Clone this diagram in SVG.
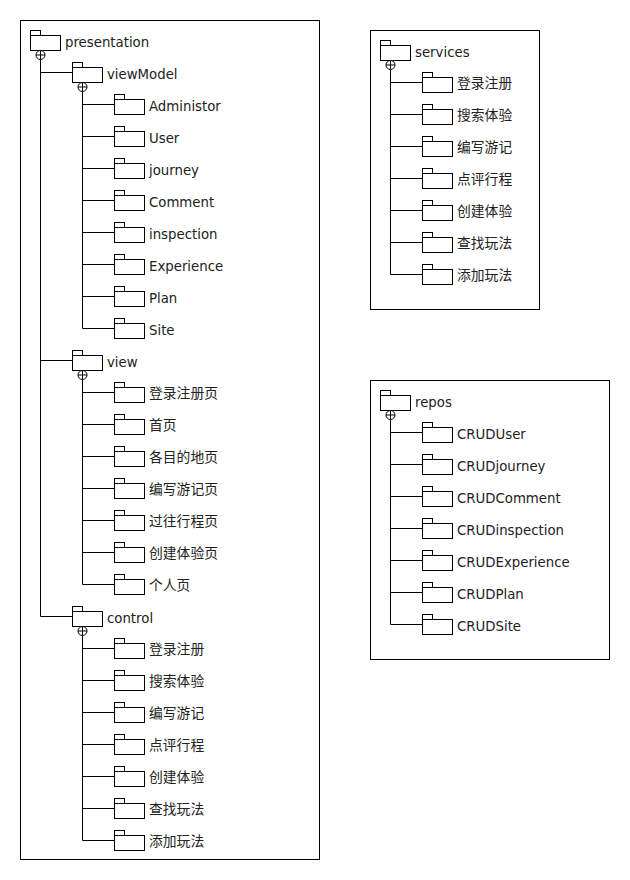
<svg xmlns="http://www.w3.org/2000/svg" width="630" height="880" viewBox="0 0 630 880">
<style>
.box{fill:#fff;stroke:#000;stroke-width:1}
.fd rect{fill:#fff;stroke:#000;stroke-width:1}
.cn{fill:none;stroke:#000;stroke-width:1}
.pl circle{fill:#fff;stroke:#000;stroke-width:1}
.pl path{fill:none;stroke:#000;stroke-width:1}
text{font-family:"DejaVu Sans","Noto Sans CJK SC",sans-serif;font-size:13.3px;fill:#222}
text.zh{font-family:"Noto Sans CJK SC","DejaVu Sans",sans-serif;font-size:13.8px}
</style>
<defs>
<g id="f" class="fd"><rect x="0.5" y="-9.5" width="10" height="5"/><rect x="0.5" y="-4.5" width="30" height="15"/></g>
<g id="p" class="pl"><circle cx="10.5" cy="15" r="4.5"/><path d="M6 15H15M10.5 10.5V19.5"/></g>
</defs>
<rect class="box" x="20.5" y="20.5" width="299" height="839"/>
<rect class="box" x="370.5" y="30.5" width="169" height="279"/>
<rect class="box" x="370.5" y="380.5" width="239" height="279"/>
<g id="connectors" class="cn">
<path d="M40.5 59.5V616.5M40.5 72.5H72.5M40.5 360.5H72.5M40.5 616.5H72.5"/>
<path d="M82.5 91.5V328.5M82.5 104.5H114.5M82.5 136.5H114.5M82.5 168.5H114.5M82.5 200.5H114.5M82.5 232.5H114.5M82.5 264.5H114.5M82.5 296.5H114.5M82.5 328.5H114.5"/>
<path d="M82.5 379.5V584.5M82.5 392.5H114.5M82.5 424.5H114.5M82.5 456.5H114.5M82.5 488.5H114.5M82.5 520.5H114.5M82.5 552.5H114.5M82.5 584.5H114.5"/>
<path d="M82.5 635.5V840.5M82.5 648.5H114.5M82.5 680.5H114.5M82.5 712.5H114.5M82.5 744.5H114.5M82.5 776.5H114.5M82.5 808.5H114.5M82.5 840.5H114.5"/>
<path d="M390.5 69.5V274.5M390.5 82.5H422.5M390.5 114.5H422.5M390.5 146.5H422.5M390.5 178.5H422.5M390.5 210.5H422.5M390.5 242.5H422.5M390.5 274.5H422.5"/>
<path d="M390.5 419.5V624.5M390.5 432.5H422.5M390.5 464.5H422.5M390.5 496.5H422.5M390.5 528.5H422.5M390.5 560.5H422.5M390.5 592.5H422.5M390.5 624.5H422.5"/>
</g>
<g id="presentation"><use href="#f" x="30" y="40"/><use href="#p" x="30" y="40"/><text x="65" y="46.5">presentation</text></g>
<g id="viewModel"><use href="#f" x="72" y="72"/><use href="#p" x="72" y="72"/><text x="107" y="78.5">viewModel</text></g>
<g id="vm-Administor"><use href="#f" x="114" y="104"/><text x="149" y="110.5">Administor</text></g>
<g id="vm-User"><use href="#f" x="114" y="136"/><text x="149" y="142.5">User</text></g>
<g id="vm-journey"><use href="#f" x="114" y="168"/><text x="149" y="174.5">journey</text></g>
<g id="vm-Comment"><use href="#f" x="114" y="200"/><text x="149" y="206.5">Comment</text></g>
<g id="vm-inspection"><use href="#f" x="114" y="232"/><text x="149" y="238.5">inspection</text></g>
<g id="vm-Experience"><use href="#f" x="114" y="264"/><text x="149" y="270.5">Experience</text></g>
<g id="vm-Plan"><use href="#f" x="114" y="296"/><text x="149" y="302.5">Plan</text></g>
<g id="vm-Site"><use href="#f" x="114" y="328"/><text x="149" y="334.5">Site</text></g>
<g id="view"><use href="#f" x="72" y="360"/><use href="#p" x="72" y="360"/><text x="107" y="366.5">view</text></g>
<g id="v-1"><use href="#f" x="114" y="392"/><text class="zh" x="149" y="398">登录注册页</text></g>
<g id="v-2"><use href="#f" x="114" y="424"/><text class="zh" x="149" y="430">首页</text></g>
<g id="v-3"><use href="#f" x="114" y="456"/><text class="zh" x="149" y="462">各目的地页</text></g>
<g id="v-4"><use href="#f" x="114" y="488"/><text class="zh" x="149" y="494">编写游记页</text></g>
<g id="v-5"><use href="#f" x="114" y="520"/><text class="zh" x="149" y="526">过往行程页</text></g>
<g id="v-6"><use href="#f" x="114" y="552"/><text class="zh" x="149" y="558">创建体验页</text></g>
<g id="v-7"><use href="#f" x="114" y="584"/><text class="zh" x="149" y="590">个人页</text></g>
<g id="control"><use href="#f" x="72" y="616"/><use href="#p" x="72" y="616"/><text x="107" y="622.5">control</text></g>
<g id="c-1"><use href="#f" x="114" y="648"/><text class="zh" x="149" y="654">登录注册</text></g>
<g id="c-2"><use href="#f" x="114" y="680"/><text class="zh" x="149" y="686">搜索体验</text></g>
<g id="c-3"><use href="#f" x="114" y="712"/><text class="zh" x="149" y="718">编写游记</text></g>
<g id="c-4"><use href="#f" x="114" y="744"/><text class="zh" x="149" y="750">点评行程</text></g>
<g id="c-5"><use href="#f" x="114" y="776"/><text class="zh" x="149" y="782">创建体验</text></g>
<g id="c-6"><use href="#f" x="114" y="808"/><text class="zh" x="149" y="814">查找玩法</text></g>
<g id="c-7"><use href="#f" x="114" y="840"/><text class="zh" x="149" y="846">添加玩法</text></g>
<g id="services"><use href="#f" x="380" y="50"/><use href="#p" x="380" y="50"/><text x="415" y="56.5">services</text></g>
<g id="s-1"><use href="#f" x="422" y="82"/><text class="zh" x="457" y="88">登录注册</text></g>
<g id="s-2"><use href="#f" x="422" y="114"/><text class="zh" x="457" y="120">搜索体验</text></g>
<g id="s-3"><use href="#f" x="422" y="146"/><text class="zh" x="457" y="152">编写游记</text></g>
<g id="s-4"><use href="#f" x="422" y="178"/><text class="zh" x="457" y="184">点评行程</text></g>
<g id="s-5"><use href="#f" x="422" y="210"/><text class="zh" x="457" y="216">创建体验</text></g>
<g id="s-6"><use href="#f" x="422" y="242"/><text class="zh" x="457" y="248">查找玩法</text></g>
<g id="s-7"><use href="#f" x="422" y="274"/><text class="zh" x="457" y="280">添加玩法</text></g>
<g id="repos"><use href="#f" x="380" y="400"/><use href="#p" x="380" y="400"/><text x="415" y="406.5">repos</text></g>
<g id="r-User"><use href="#f" x="422" y="432"/><text x="457" y="438.5">CRUDUser</text></g>
<g id="r-journey"><use href="#f" x="422" y="464"/><text x="457" y="470.5">CRUDjourney</text></g>
<g id="r-Comment"><use href="#f" x="422" y="496"/><text x="457" y="502.5">CRUDComment</text></g>
<g id="r-inspection"><use href="#f" x="422" y="528"/><text x="457" y="534.5">CRUDinspection</text></g>
<g id="r-Experience"><use href="#f" x="422" y="560"/><text x="457" y="566.5">CRUDExperience</text></g>
<g id="r-Plan"><use href="#f" x="422" y="592"/><text x="457" y="598.5">CRUDPlan</text></g>
<g id="r-Site"><use href="#f" x="422" y="624"/><text x="457" y="630.5">CRUDSite</text></g>
</svg>
